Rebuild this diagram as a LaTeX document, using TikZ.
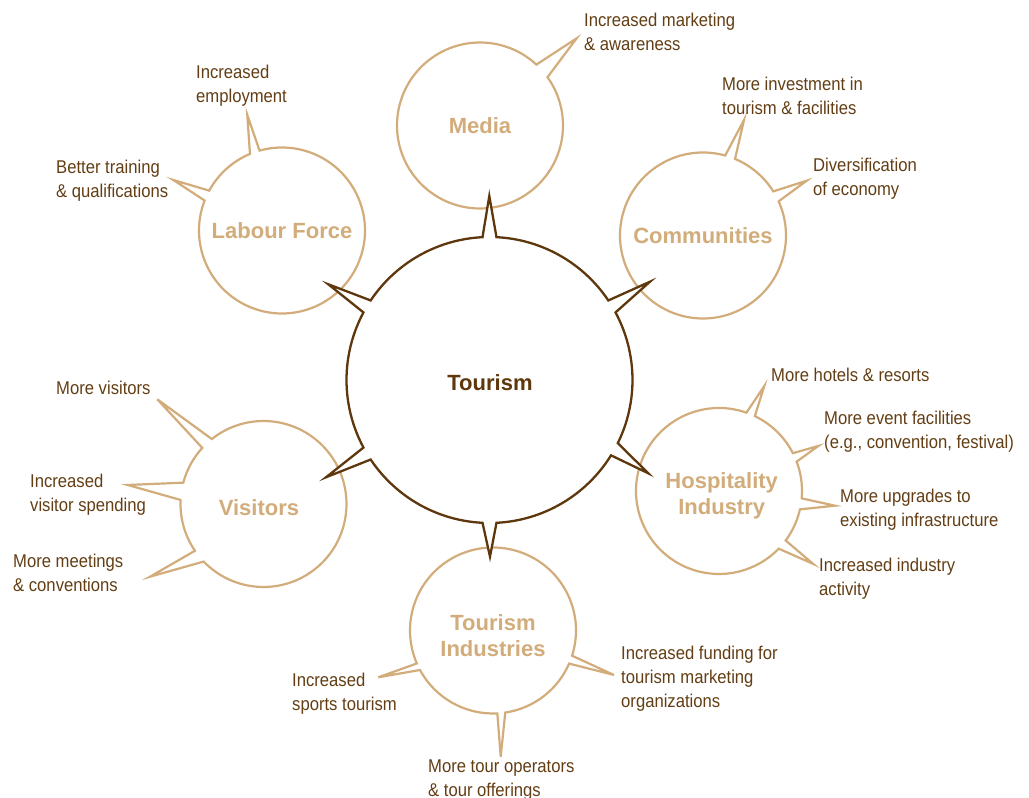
\documentclass[tikz,border=0pt]{standalone}
\usepackage{fontspec}
\setmainfont{Liberation Sans}
\newfontfamily\narrowfont[FakeStretch=0.9]{Liberation Sans}
\usetikzlibrary{calc}
\definecolor{bubbletan}{HTML}{D2AD7B}
\definecolor{darkline}{HTML}{5E370C}
\definecolor{textbrown}{HTML}{633E14}
\begin{document}
\begin{tikzpicture}[
  outerbub/.style={draw=bubbletan, line width=2.2pt, fill=white, line join=miter},
  centerbub/.style={draw=darkline, line width=2.3pt, fill=white, line join=miter},
  lab/.style={anchor=west, inner sep=0pt, align=left, text=textbrown, font=\narrowfont\fontsize{18.5}{24}\selectfont},
  title/.style={inner sep=0pt, align=center, text=bubbletan, font=\bfseries\fontsize{22}{26}\selectfont},
]
\useasboundingbox (0,0) rectangle (1029pt,798pt);
\begin{scope}[x=1pt,y=-1pt,yshift=798pt]
  % centres
  \coordinate (C) at (489.5,380);
  \coordinate (M) at (480,125.5);
  \coordinate (L) at (282,230.5);
  \coordinate (Vi) at (263.5,504);
  \coordinate (H) at (719,491);
  \coordinate (TI) at (493,630.5);
  \coordinate (Co) at (703,235.5);
  % central tips
  \coordinate (cT) at (489.3,196);
  \coordinate (cUL) at (328.3,284.3);
  \coordinate (cLL) at (326,477.3);
  \coordinate (cB) at (490,556.7);
  \coordinate (cLR) at (648.3,473.3);
  \coordinate (cUR) at (650,281.7);
  % outer tips
  \coordinate (mT) at (576.7,38.3);
  \coordinate (lE) at (247.3,115);
  \coordinate (lT) at (173.3,180);
  \coordinate (v1) at (157.3,399.3);
  \coordinate (v2) at (127.7,485);
  \coordinate (v3) at (150,576.7);
  \coordinate (h1) at (764.3,386);
  \coordinate (h2) at (818.3,446);
  \coordinate (h3) at (835,505.7);
  \coordinate (h4) at (813.3,564);
  \coordinate (t1) at (378.3,677.3);
  \coordinate (t2) at (614,675);
  \coordinate (t3) at (500.7,756.7);
  \coordinate (o1) at (744,120);
  \coordinate (o2) at (806.7,180.7);
  % label anchors
  \coordinate (pM) at (584,34);
  \coordinate (pL1) at (196,85.5);
  \coordinate (pL2) at (56,180.5);
  \coordinate (pC1) at (722,98);
  \coordinate (pC2) at (813,179);
  \coordinate (pV1) at (56,390);
  \coordinate (pV2) at (30,495);
  \coordinate (pV3) at (13,575);
  \coordinate (pH1) at (771,377);
  \coordinate (pH2) at (824,432);
  \coordinate (pH3) at (840,510);
  \coordinate (pH4) at (819,578.5);
  \coordinate (pT1) at (292,694);
  \coordinate (pT2) at (621,679);
  \coordinate (pT3) at (428,780);
  % title anchors
  \coordinate (qM) at (480,126);
  \coordinate (qL) at (282,231);
  \coordinate (qCo) at (703,236);
  \coordinate (qV) at (259,508);
  \coordinate (qC) at (490,383);
  \coordinate (qH) at (721.7,496.5);
  \coordinate (qTI) at (493,638.1);
\end{scope}

% Media
\path[outerbub] ($(M)+(47.2:83pt)$) arc[start angle=47.2,end angle=395.6,radius=83pt] -- (mT) -- cycle;
% Labour Force
\path[outerbub] ($(L)+(112.7:83pt)$) arc[start angle=112.7,end angle=151.3,radius=83pt] -- (lT)
  -- ($(L)+(158.8:83pt)$) arc[start angle=158.8,end angle=465.7,radius=83pt] -- (lE) -- cycle;
% Visitors
\path[outerbub] ($(Vi)+(137.5:83pt)$) arc[start angle=137.5,end angle=165.1,radius=83pt] -- (v2)
  -- ($(Vi)+(177.2:83pt)$) arc[start angle=177.2,end angle=214.3,radius=83pt] -- (v3)
  -- ($(Vi)+(223.9:83pt)$) arc[start angle=223.9,end angle=488.5,radius=83pt] -- (v1) -- cycle;
% Hospitality Industry
\path[outerbub] ($(H)+(70.7:83pt)$) arc[start angle=70.7,end angle=316,radius=83pt] -- (h4)
  -- ($(H)+(-36.6:83pt)$) arc[start angle=-36.6,end angle=-12.8,radius=83pt] -- (h3)
  -- ($(H)+(-5.1:83pt)$) arc[start angle=-5.1,end angle=20.7,radius=83pt] -- (h2)
  -- ($(H)+(27.1:83pt)$) arc[start angle=27.1,end angle=64.4,radius=83pt] -- (h1) -- cycle;
% Tourism Industries
\path[outerbub] ($(TI)+(-81.5:83pt)$) arc[start angle=-81.5,end angle=-23.5,radius=83pt] -- (t2)
  -- ($(TI)+(-17.7:83pt)$) arc[start angle=-17.7,end angle=203.4,radius=83pt] -- (t1)
  -- ($(TI)+(208.4:83pt)$) arc[start angle=208.4,end angle=273,radius=83pt] -- (t3) -- cycle;
% Communities
\path[outerbub] ($(Co)+(74.5:83pt)$) arc[start angle=74.5,end angle=384.3,radius=83pt] -- (o2)
  -- ($(Co)+(32.1:83pt)$) arc[start angle=32.1,end angle=67.3,radius=83pt] -- (o1) -- cycle;
% Tourism (centre)
\path[centerbub] ($(C)+(92.8:143pt)$) arc[start angle=92.8,end angle=146.2,radius=143pt] -- (cUL)
  -- ($(C)+(151.8:143pt)$) arc[start angle=151.8,end angle=208.2,radius=143pt] -- (cLL)
  -- ($(C)+(213.8:143pt)$) arc[start angle=213.8,end angle=267.2,radius=143pt] -- (cB)
  -- ($(C)+(272.8:143pt)$) arc[start angle=272.8,end angle=328.2,radius=143pt] -- (cLR)
  -- ($(C)+(333.8:143pt)$) arc[start angle=333.8,end angle=388.2,radius=143pt] -- (cUR)
  -- ($(C)+(393.8:143pt)$) arc[start angle=393.8,end angle=447.2,radius=143pt] -- (cT) -- cycle;

% titles
\node[title] (tMedia) at (qM) {Media};
\node[title] (tLabour) at (qL) {Labour Force};
\node[title] (tComm) at (qCo) {Communities};
\node[title] (tVis) at (qV) {Visitors};
\node[title] (tHosp) at (qH) {\strut Hospitality\\\strut Industry};
\node[title] (tTI) at (qTI) {\strut Tourism\\\strut Industries};
\node[title, text=darkline] (tTour) at (qC) {Tourism};

% labels
\node[lab] (lbM) at (pM) {\strut Increased marketing\\\strut \& awareness};
\node[lab] (lbL1) at (pL1) {\strut Increased\\\strut employment};
\node[lab] (lbL2) at (pL2) {\strut Better training\\\strut \& qualifications};
\node[lab] (lbC1) at (pC1) {\strut More investment in\\\strut tourism \& facilities};
\node[lab] (lbC2) at (pC2) {\strut Diversification\\\strut of economy};
\node[lab] (lbV1) at (pV1) {\strut More visitors};
\node[lab] (lbV2) at (pV2) {\strut Increased\\\strut visitor spending};
\node[lab] (lbV3) at (pV3) {\strut More meetings\\\strut \& conventions};
\node[lab] (lbH1) at (pH1) {\strut More hotels \& resorts};
\node[lab] (lbH2) at (pH2) {\strut More event facilities\\\strut (e.g., convention, festival)};
\node[lab] (lbH3) at (pH3) {\strut More upgrades to\\\strut existing infrastructure};
\node[lab] (lbH4) at (pH4) {\strut Increased industry\\\strut activity};
\node[lab] (lbT1) at (pT1) {\strut Increased\\\strut sports tourism};
\node[lab] (lbT2) at (pT2) {\strut Increased funding for\\\strut tourism marketing\\\strut organizations};
\node[lab] (lbT3) at (pT3) {\strut More tour operators\\\strut \& tour offerings};
\end{tikzpicture}
\end{document}
